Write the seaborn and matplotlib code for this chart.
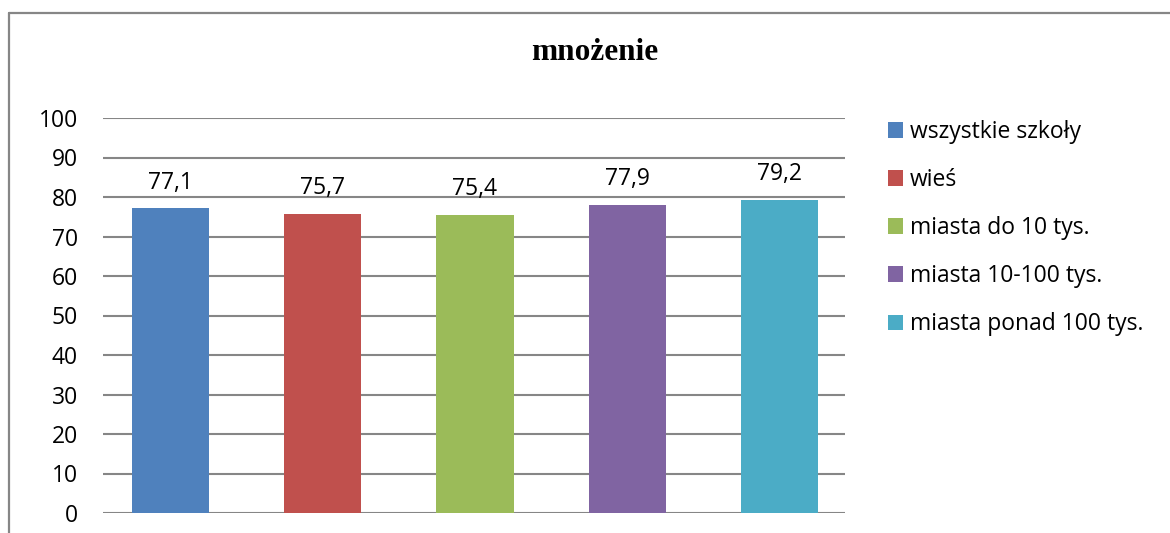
import matplotlib
matplotlib.use("Agg")
import matplotlib.pyplot as plt
from matplotlib.lines import Line2D
import seaborn as sns
import pandas as pd

categories = ["wszystkie szkoły", "wieś", "miasta do 10 tys.", "miasta 10-100 tys.", "miasta ponad 100 tys."]
values = [77.1, 75.7, 75.4, 77.9, 79.2]
colors = ["#4F81BD", "#C0504D", "#9BBB59", "#8064A2", "#4BACC6"]
y_ticks = [0, 10, 20, 30, 40, 50, 60, 70, 80, 90, 100]
title = "mnożenie"

sns.set_theme(style="white")
plt.rcParams["font.family"] = ["Open Sans", "DejaVu Sans"]
plt.rcParams["text.color"] = "black"

W, H = 1170, 533
fig = plt.figure(figsize=(W / 100, H / 100), dpi=100)
fig.patch.set_facecolor("white")

ax = fig.add_axes([103 / W, 1 - 513 / H, (845 - 103) / W, (513 - 118) / H])

df = pd.DataFrame({"kategoria": categories, "wynik": values})
sns.barplot(data=df, x="kategoria", y="wynik", hue="kategoria",
            palette=colors, width=0.506, dodge=False, legend=True,
            saturation=1, linewidth=0, ax=ax)

FS = 16.5
grid_c = "#868686"

ax.set_ylim(0, 100)
ax.set_xlim(-0.443, 4.43)
ax.set_yticks(y_ticks)
ax.set_yticklabels([str(t) for t in y_ticks], fontsize=FS, color="black")
ax.tick_params(axis="y", length=0, pad=18)
ax.set_xticks([])
ax.set_xlabel("")
ax.set_ylabel("")
for t in y_ticks:
    ax.axhline(t, color=grid_c, lw=1.5, zorder=0)
for s in ["left", "right", "top", "bottom"]:
    ax.spines[s].set_visible(False)
ax.set_axisbelow(True)

for cont, v in zip(ax.containers, values):
    ax.bar_label(cont, labels=[f"{v:.1f}".replace(".", ",")], padding=10,
                 fontsize=FS, color="black")

handles, labels = ax.get_legend_handles_labels()
ax.legend(handles, labels, loc="upper left",
          bbox_to_anchor=(888 / W, 1 - 120 / H), bbox_transform=fig.transFigure,
          frameon=False, fontsize=FS, handlelength=0.65, handleheight=0.65,
          handletextpad=0.3, labelspacing=1.05, borderaxespad=0, borderpad=0,
          labelcolor="black")

fig.text(595 / W, 1 - 53 / H, title, ha="center", va="center", color="black",
         fontsize=22.5, fontweight="bold", family="Liberation Serif")

# outer frame of the chart area (left and top edges)
fig.add_artist(Line2D([8.5 / W, 8.5 / W], [0, 1 - 12.5 / H], transform=fig.transFigure,
                      color=grid_c, lw=1.6))
fig.add_artist(Line2D([8.5 / W, 1], [1 - 12.5 / H, 1 - 12.5 / H], transform=fig.transFigure,
                      color=grid_c, lw=1.6))

fig.savefig("out.png", dpi=100, facecolor="white")
